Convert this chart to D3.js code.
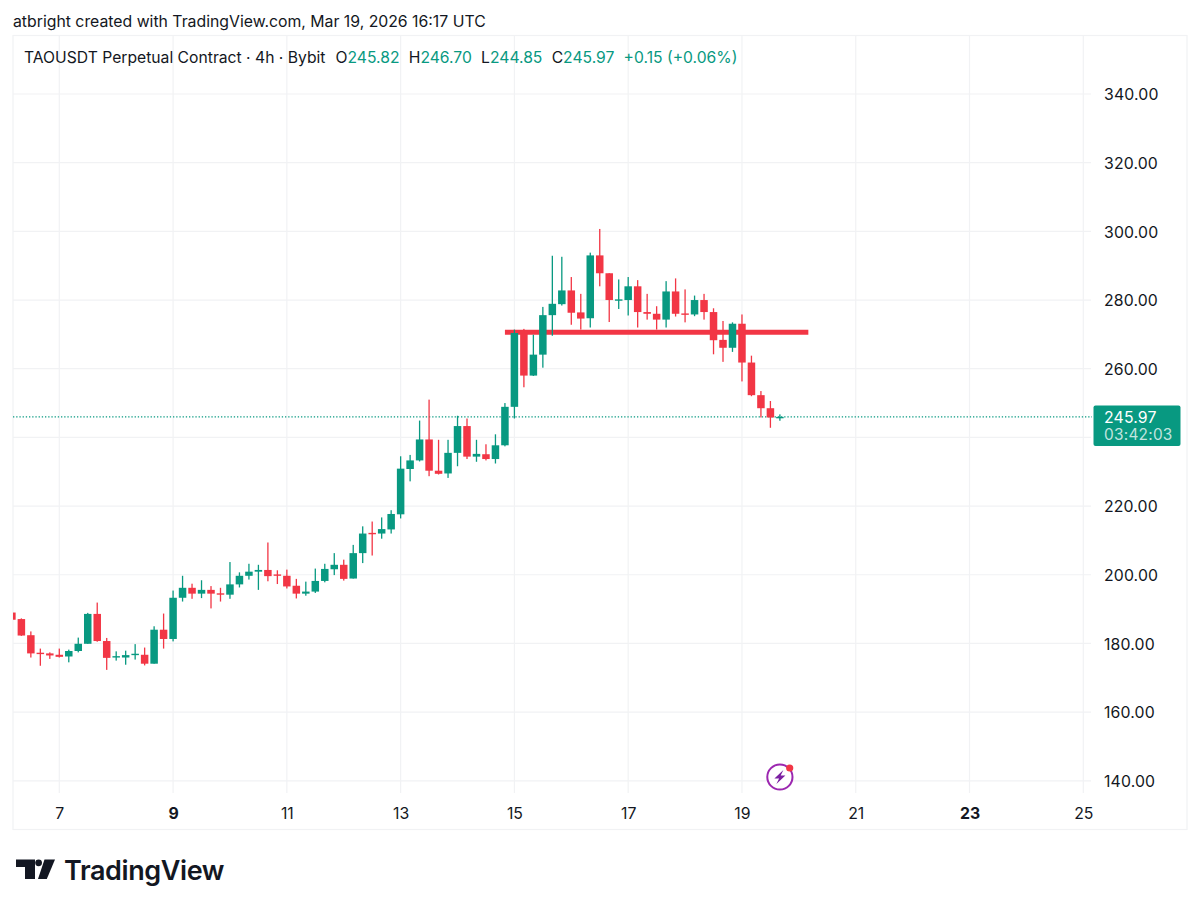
<!DOCTYPE html>
<html>
<head>
<meta charset="utf-8">
<script src="https://cdn.jsdelivr.net/npm/d3@7"></script>
<style>
  html, body { margin: 0; padding: 0; background: #fff; }
  svg { display: block; }
  text { font-family: Inter, "Liberation Sans", sans-serif; }
</style>
</head>
<body>
<svg id="chart" width="1200" height="909"></svg>
<script>
// 4h candles, first one opens Mar 6 04:00 UTC
const opens = [189.0,187.1,182.4,177.3,177.1,176.7,176.2,177.8,179.9,188.6,180.7,175.9,175.9,176.6,176.7,174.1,184.0,181.3,193.3,196.2,194.5,195.6,194.6,194.2,197.2,199.7,200.9,201.4,200.1,199.7,196.8,194.5,195.1,198.2,201.6,202.9,198.9,206.3,212.2,212.0,213.2,217.6,230.8,233.3,239.4,230.3,229.5,235.5,243.3,234.4,235.1,233.7,237.7,248.9,270.4,258.0,264.1,275.6,278.8,282.8,276.4,274.7,293.0,287.8,279.9,280.0,284.0,276.5,276.0,274.3,282.5,276.1,275.8,280.0,276.5,268.4,266.1,273.1,261.8,252.3,248.5,245.82];
const highs = [189.0,187.3,183.5,178.5,177.4,178.5,178.2,181.7,188.9,191.9,181.6,177.7,177.9,179.8,178.8,185.0,188.7,195.4,199.7,197.4,198.4,196.7,196.2,203.7,200.7,203.2,202.9,209.4,201.3,201.5,198.8,198.0,201.8,203.2,206.3,204.4,208.7,214.1,215.5,216.7,218.8,234.5,234.9,244.9,251.0,239.3,239.3,246.3,245.5,239.3,238.0,240.9,250.0,271.4,271.6,269.9,278.0,292.9,292.6,286.7,281.8,293.8,300.7,287.8,286.0,286.7,285.8,281.8,278.2,285.5,286.3,283.1,281.3,281.8,277.6,273.9,273.5,275.8,263.8,253.5,250.6,246.70];
const lows = [186.9,182.2,175.9,173.5,175.5,175.9,174.5,177.4,179.9,180.5,172.3,175.0,173.8,175.3,173.6,174.1,178.5,180.6,192.2,193.0,193.2,190.2,192.2,193.0,196.3,198.6,195.6,198.1,197.3,196.0,193.1,193.9,194.7,197.8,199.9,198.3,198.9,203.4,205.6,210.5,212.0,216.4,227.2,233.0,228.7,229.2,228.2,231.6,233.7,232.9,233.3,232.4,237.4,245.5,254.6,257.9,260.3,269.6,278.4,272.8,271.4,272.0,284.0,273.6,277.4,275.5,272.0,274.3,271.4,272.0,275.2,273.5,275.3,274.3,264.2,262.0,264.9,256.3,252.0,245.8,242.8,244.85];
const closes = [186.9,182.3,177.1,177.0,176.5,176.1,177.8,179.9,188.6,180.7,175.8,176.3,176.6,177.0,174.1,184.0,181.3,193.3,196.2,194.5,195.6,194.5,194.3,197.2,199.7,200.9,201.4,199.6,199.8,196.6,194.5,195.1,198.2,201.7,202.9,198.8,206.3,212.0,211.8,213.3,217.7,230.9,233.3,239.4,230.3,229.4,235.5,243.3,234.4,235.2,233.7,237.7,248.9,270.4,258.0,264.1,275.6,278.9,282.8,276.3,274.6,293.0,287.8,280.0,280.2,284.0,276.5,276.0,274.3,282.5,276.0,276.0,280.0,276.5,268.3,266.1,273.1,261.8,252.3,248.5,245.8,245.97];

const priceTicks = [140,160,180,200,220,240,260,280,300,320,340];
// 240.00 sits under the last price tag, so it gets a grid line but no label
const priceLabels = [140,160,180,200,220,260,280,300,320,340];
const dayTicks = [7,9,11,13,15,17,19,21,23,25];
const boldDays = [9,23];

const lastPrice = 245.97;
const countdown = "03:42:03";
const levelPrice = 270.6;
const levelFrom = Date.UTC(2026,2,14,20);
const levelTo = Date.UTC(2026,2,20,4);

const green = "#089981", red = "#f23645", gridColor = "#f1f2f4", ink = "#131722";
const firstCandle = Date.UTC(2026,2,6,4);
const fourHours = 4*3600*1000;

const candles = opens.map((o,i) => ({
  t: new Date(firstCandle + i*fourHours), o, h: highs[i], l: lows[i], c: closes[i]
}));

const frameLeft = 13, frameRight = 1187, frameTop = 35.5, frameBottom = 829.5;
const gridRight = 1091, gridBottom = 793;

const x = d3.scaleUtc()
  .domain([new Date(Date.UTC(2026,2,7)), new Date(Date.UTC(2026,2,25))])
  .range([59.3, 1083.3]);
const y = d3.scaleLinear().domain([140,340]).range([780.8,94]);

const svg = d3.select("#chart");

svg.append("text").attr("x",13).attr("y",26.5)
  .attr("font-size",15.8).attr("fill",ink)
  .text("atbright created with TradingView.com, Mar 19, 2026 16:17 UTC");

// outer frame
svg.append("rect")
  .attr("x",frameLeft).attr("y",frameTop).attr("width",frameRight-frameLeft).attr("height",frameBottom-frameTop)
  .attr("fill","none").attr("stroke",gridColor).attr("stroke-width",1.2);

// grid
svg.append("g").selectAll("line").data(priceTicks).join("line")
  .attr("x1",frameLeft).attr("x2",gridRight)
  .attr("y1",d => y(d)).attr("y2",d => y(d))
  .attr("stroke",gridColor).attr("stroke-width",1.2);
svg.append("g").selectAll("line").data(dayTicks).join("line")
  .attr("x1",d => x(new Date(Date.UTC(2026,2,d)))).attr("x2",d => x(new Date(Date.UTC(2026,2,d))))
  .attr("y1",frameTop).attr("y2",gridBottom)
  .attr("stroke",gridColor).attr("stroke-width",1.2);

// horizontal level sits behind the candles
svg.append("line")
  .attr("x1",x(new Date(levelFrom))).attr("x2",x(new Date(levelTo)))
  .attr("y1",y(levelPrice)).attr("y2",y(levelPrice))
  .attr("stroke",red).attr("stroke-width",5);

// last price line
svg.append("line")
  .attr("x1",frameLeft).attr("x2",1092)
  .attr("y1",y(lastPrice)).attr("y2",y(lastPrice))
  .attr("stroke",green).attr("stroke-width",1.3).attr("stroke-dasharray","1.3 1.9");

svg.append("clipPath").attr("id","plot").append("rect")
  .attr("x",frameLeft).attr("y",frameTop).attr("width",gridRight-frameLeft).attr("height",frameBottom-frameTop);

const candle = svg.append("g").attr("clip-path","url(#plot)")
  .selectAll("g").data(candles).join("g")
  .attr("fill",d => d.c >= d.o ? green : red);

const bodyW = 7.5;
candle.append("rect")
  .attr("x",d => x(d.t)-0.65).attr("width",1.3)
  .attr("y",d => y(d.h)).attr("height",d => y(d.l)-y(d.h));
candle.append("rect")
  .attr("x",d => x(d.t)-bodyW/2).attr("width",bodyW)
  .attr("y",d => y(Math.max(d.o,d.c)))
  .attr("height",d => Math.max(1.4, Math.abs(y(d.o)-y(d.c))));

// axes
const priceAxis = d3.axisRight(y).tickValues(priceLabels).tickSize(0).tickPadding(0)
  .tickFormat(d3.format(".2f"));
const gPrice = svg.append("g").attr("transform","translate(1104,0.8)").call(priceAxis);
gPrice.select(".domain").remove();
gPrice.selectAll("text").attr("font-size",15.8).attr("fill",ink)
  .attr("font-family","Inter, sans-serif").attr("letter-spacing",0.15);

const timeAxis = d3.axisBottom(x)
  .tickValues(dayTicks.map(d => new Date(Date.UTC(2026,2,d))))
  .tickSize(0).tickPadding(0).tickFormat(d3.utcFormat("%-d"));
const gTime = svg.append("g").attr("transform","translate(0,808)").call(timeAxis);
gTime.select(".domain").remove();
gTime.selectAll("text").attr("font-size",15.8).attr("fill",ink)
  .attr("font-family","Inter, sans-serif")
  .attr("font-weight",d => boldDays.includes(d.getUTCDate()) ? 700 : 400);

// last price tag
const yLast = y(lastPrice);
svg.append("rect").attr("x",1093.5).attr("y",yLast-11.5).attr("width",87).attr("height",40.5)
  .attr("rx",2).attr("fill",green);
svg.append("text").attr("x",1104).attr("y",yLast+6)
  .attr("font-size",15.8).attr("fill","#fff").attr("letter-spacing",0.15).text(d3.format(".2f")(lastPrice));
svg.append("text").attr("x",1104).attr("y",yLast+23.5)
  .attr("font-size",15.4).attr("fill","#fff").attr("fill-opacity",0.75).attr("letter-spacing",0.25).text(countdown);

// legend
const legend = svg.append("text").attr("x",24).attr("y",62.5).attr("font-size",15.7).attr("fill",ink);
legend.append("tspan").text("TAOUSDT Perpetual Contract · 4h · Bybit");
[["O","245.82"],["H","246.70"],["L","244.85"],["C","245.97"]].forEach(([k,v],i) => {
  legend.append("tspan").attr("dx",i ? 9.2 : 10).text(k);
  legend.append("tspan").attr("fill",green).text(v);
});
legend.append("tspan").attr("dx",9.2).attr("fill",green).text("+0.15 (+0.06%)");

// notification badge
const badge = svg.append("g").attr("transform",`translate(${x(new Date(Date.UTC(2026,2,19,16)))},777)`);
badge.append("circle").attr("r",12.6).attr("fill","#fff").attr("stroke","#9c27b0").attr("stroke-width",2);
badge.append("path").attr("d","M3.5 -7 L-5.5 1.5 L-0.8 1.5 L-3.5 7 L5.5 -1.5 L0.8 -1.5 Z").attr("fill","#7b1fa2");
badge.append("circle").attr("cx",9.8).attr("cy",-9).attr("r",3.6).attr("fill",red);

// TradingView logo
const logo = svg.append("g").attr("fill","#131722");
logo.append("path").attr("d","M16 859.5 H35 V879 H25 V867 H16 Z");
logo.append("circle").attr("cx",38.6).attr("cy",862.8).attr("r",3.4);
logo.append("path").attr("d","M44.5 859.5 H55 L46.8 879 H38 Z");
logo.append("text").attr("x",64).attr("y",880).attr("font-size",27).attr("font-weight",600)
  .attr("letter-spacing",-0.4).text("TradingView");
</script>
</body>
</html>
